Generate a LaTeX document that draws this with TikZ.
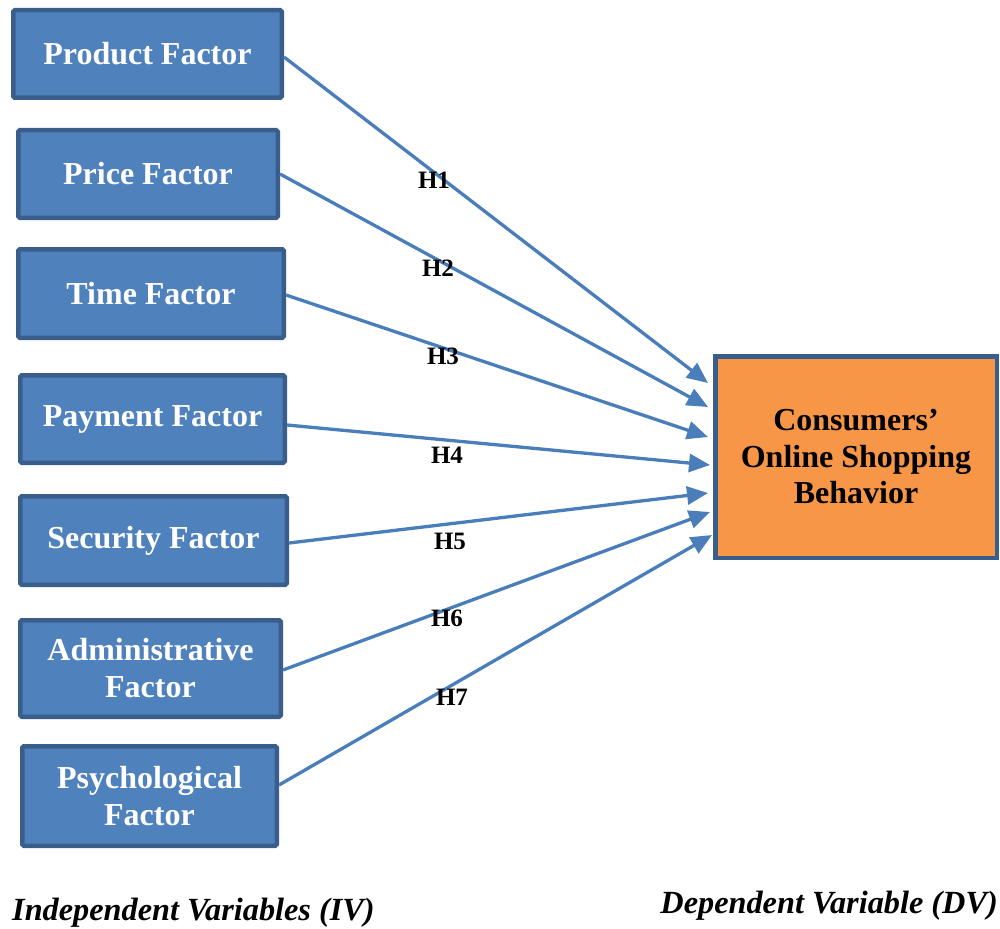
\documentclass[tikz,border=0pt]{standalone}
\usepackage{fontspec}
\setmainfont{Liberation Serif}
\usetikzlibrary{arrows.meta}
\definecolor{boxfill}{HTML}{4F81BD}
\definecolor{boxedge}{HTML}{3A5E8C}
\definecolor{dvfill}{HTML}{F79646}
\definecolor{linkblue}{HTML}{4A7EBB}
\tikzset{
  ivbox/.style={draw=boxedge, line width=4.5pt, fill=boxfill, rounded corners=1.5pt,
    text=white, font=\fontsize{32}{37}\selectfont\bfseries, align=center,
    inner sep=0pt},
  dvbox/.style={draw=boxedge, line width=4.5pt, fill=dvfill,
    text=black, font=\fontsize{32}{36.5}\selectfont\bfseries, align=center,
    inner sep=0pt, minimum width=281.5pt, minimum height=201.5pt},
  link/.style={draw=linkblue, line width=3.3pt,
    -{Triangle[length=21pt,width=18pt]}},
  hlabel/.style={font=\fontsize{25}{25}\selectfont\bfseries, text=black, inner sep=0pt},
  caption/.style={font=\fontsize{32.3}{32.3}\selectfont\bfseries\itshape, text=black, inner sep=0pt}
}
\begin{document}
\begin{tikzpicture}[x=1pt, y=-1pt]
\useasboundingbox (0,0) rectangle (1000,928);

% independent variables
\node[ivbox, minimum width=268.5pt, minimum height=87.5pt] (p1) at (147.5,54) {Product Factor};
\node[ivbox, minimum width=259.5pt, minimum height=87.5pt] (p2) at (148,174) {Price Factor};
\node[ivbox, minimum width=265.5pt, minimum height=88.5pt] (p3) at (151,293.5) {Time Factor};
\node[ivbox, minimum width=264.5pt, minimum height=87.5pt] (p4) at (152.5,419) {Payment Factor};
\node[ivbox, minimum width=266.5pt, minimum height=88.5pt] (p5) at (153.5,540.5) {Security Factor};
\node[ivbox, minimum width=260.5pt, minimum height=96.5pt] (p6) at (150.5,668.5) {Administrative\\Factor};
\node[ivbox, minimum width=254.5pt, minimum height=99.5pt] (p7) at (149.5,796) {Psychological\\Factor};

% dependent variable
\node[dvbox] (dv) at (856,457) {Consumers’\\Online Shopping\\Behavior};

% arrow start and tip points
\coordinate (s1) at ([yshift=-3pt]p1.east);
\coordinate (s2) at ([yshift=0pt]p2.east);
\coordinate (s3) at ([yshift=-1.5pt]p3.east);
\coordinate (s4) at ([yshift=-6pt]p4.east);
\coordinate (s5) at ([yshift=-2.5pt]p5.east);
\coordinate (s6) at ([yshift=-1.5pt]p6.east);
\coordinate (s7) at ([yshift=11pt]p7.east);
\coordinate (t1) at ([xshift=-5pt,yshift=74pt]dv.west);
\coordinate (t2) at ([xshift=-5pt,yshift=50pt]dv.west);
\coordinate (t3) at ([xshift=-5pt,yshift=20pt]dv.west);
\coordinate (t4) at ([xshift=-3pt,yshift=-8pt]dv.west);
\coordinate (t5) at ([xshift=-5pt,yshift=-36pt]dv.west);
\coordinate (t6) at ([xshift=-3pt,yshift=-55pt]dv.west);
\coordinate (t7) at ([xshift=-1pt,yshift=-78pt]dv.west);

\foreach \i in {1,...,7} {
  \draw[link] (s\i) -- (t\i);
}

% hypothesis labels
\node[hlabel] (h1) at (434,180) {H1};
\node[hlabel] (h2) at (438,268) {H2};
\node[hlabel] (h3) at (443,356) {H3};
\node[hlabel] (h4) at (447,455) {H4};
\node[hlabel] (h5) at (450,541) {H5};
\node[hlabel] (h6) at (447,618) {H6};
\node[hlabel] (h7) at (452,697) {H7};

% captions
\node[caption, anchor=base west] (iv) at (12,920) {Independent Variables (IV)};
\node[caption, anchor=base east] (dvcap) at (998,913) {Dependent Variable (DV)};
\end{tikzpicture}
\end{document}
